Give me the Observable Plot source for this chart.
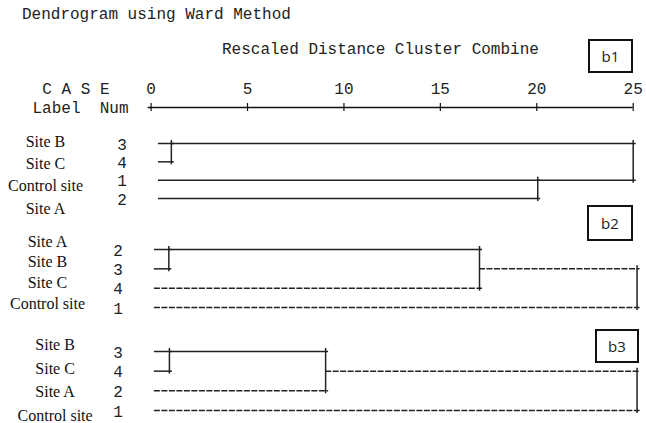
<!DOCTYPE html>
<html><head><meta charset="utf-8">
<script src="https://cdn.jsdelivr.net/npm/d3@7"></script>
<script src="https://cdn.jsdelivr.net/npm/@observablehq/plot@0.6"></script>
<style>
body{margin:0;background:#fff;}
#wrap{position:relative;width:646px;height:423px;overflow:hidden;background:#fff;}
#wrap svg{display:block;}
svg text{white-space:pre;}
.mono{position:absolute;font-family:"Liberation Mono",monospace;font-size:16px;line-height:16px;color:#222;white-space:pre;}
.tag{position:absolute;border:2px solid #111;box-sizing:border-box;font:15px "Open Sans",sans-serif;color:#222;display:flex;align-items:center;justify-content:center;background:#fff;}
</style></head><body><div id="wrap"></div>
<script>
// ---- text & axis ----
const chartTitle = "Dendrogram using Ward Method";
const axisTitle = "Rescaled Distance Cluster Combine";
const tickValues = [0, 5, 10, 15, 20, 25];
const headLabels = ["C A S E", "Label  Num"];
const panelTags = ["b1", "b2", "b3"];

// ---- panel b1 ----
const b1Labels = ["Site B", "Site C", "Control site", "Site A"];
const b1Nums = [3, 4, 1, 2];
const b1Merges = [
  {a: 0, b: 1, d: 1.05, out: 0},
  {a: 2, b: 3, d: 20.05, out: 2},
  {a: 0, b: 2, d: 25, out: 0}
];
const b1DashedLeaves = [];

// ---- panel b2 ----
const b2Labels = ["Site A", "Site B", "Site C", "Control site"];
const b2Nums = [2, 3, 4, 1];
const b2Merges = [
  {a: 0, b: 1, d: 0.92, out: 0},
  {a: 0, b: 2, d: 17.03, out: 1, dash: true},
  {a: 1, b: 3, d: 25.2, out: 1, dash: true}
];
const b2DashedLeaves = [2, 3];

// ---- panel b3 ----
const b3Labels = ["Site B", "Site C", "Site A", "Control site"];
const b3Nums = [3, 4, 2, 1];
const b3Merges = [
  {a: 0, b: 1, d: 0.95, out: 0},
  {a: 0, b: 2, d: 9.05, out: 1, dash: true},
  {a: 1, b: 3, d: 25.2, out: 1, dash: true}
];
const b3DashedLeaves = [2, 3];

const wrap = document.getElementById("wrap");
const ML = 150.6, MR = 13.3, W = 646;
const INK = "#222";

// title texts
function addDiv(cls, text, left, top, extra) {
  const el = document.createElement("div");
  el.className = cls; el.textContent = text;
  el.style.left = left + "px"; el.style.top = top + "px";
  if (extra) Object.assign(el.style, extra);
  wrap.appendChild(el);
  return el;
}

// header with axis
const header = Plot.plot({
  width: W, height: 118, marginTop: 88, marginBottom: 11, marginLeft: ML, marginRight: MR,
  x: {domain: [0, 25], axis: null},
  y: {domain: [0, 1], reverse: true, axis: null},
  style: {overflow: "visible", background: "transparent"},
  marks: [
    Plot.text(tickValues, {x: d => d, y: 0, text: d => String(d), fontFamily: "Liberation Mono", fontSize: 16, fill: INK}),
    Plot.ruleY([1], {x1: 0, x2: 25, insetLeft: -3, stroke: "#111", strokeWidth: 1.5}),
    Plot.ruleX(tickValues, {x: d => d, y1: 1, y2: 1, insetTop: -4, insetBottom: -4, stroke: "#111", strokeWidth: 1.2}),
    Plot.text([headLabels[0]], {x: 0, y: 0, text: d => d, dx: -41.6, textAnchor: "end", fontFamily: "Liberation Mono", fontSize: 16, fill: INK}),
    Plot.text([headLabels[1]], {x: 0, y: 1, text: d => d, dx: -22.6, textAnchor: "end", fontFamily: "Liberation Mono", fontSize: 16, fill: INK})
  ]
});
wrap.appendChild(header);

function panel(cfg) {
  const segsH = [], segsV = [];
  const start = cfg.labels.map(() => cfg.leafStart);
  const dashed = cfg.labels.map((_, i) => cfg.dashedLeaves.includes(i));
  cfg.merges.forEach(m => {
    segsH.push({row: m.a, x1: start[m.a], x2: m.d, dashed: dashed[m.a]});
    segsH.push({row: m.b, x1: start[m.b], x2: m.d, dashed: dashed[m.b]});
    segsV.push({x: m.d, y1: Math.min(m.a, m.b), y2: Math.max(m.a, m.b)});
    start[m.out] = m.d; dashed[m.out] = !!m.dash;
  });
  const rows = cfg.labels.map((label, i) => ({label, num: cfg.nums[i], i}));
  return Plot.plot({
    width: W, height: cfg.height, marginTop: cfg.mt, marginBottom: cfg.mb, marginLeft: ML, marginRight: MR,
    x: {domain: [0, 25], axis: null},
    y: {domain: [0, 3], reverse: true, axis: null},
    style: {overflow: "visible", background: "transparent"},
    marks: [
      Plot.ruleY(segsH.filter(s => !s.dashed), {y: "row", x1: "x1", x2: "x2", insetRight: -3, stroke: INK, strokeWidth: 1.5}),
      Plot.ruleY(segsH.filter(s => s.dashed), {y: "row", x1: "x1", x2: "x2", insetRight: -3, stroke: INK, strokeWidth: 1.5, strokeDasharray: "6,1.5"}),
      Plot.ruleX(segsV, {x: "x", y1: "y1", y2: "y2", insetTop: -3, insetBottom: -3, stroke: INK, strokeWidth: 1.5}),
      Plot.text(rows, {x: 0, y: d => 1.5 + (d.i - 1.5) * cfg.spread + cfg.shift, text: "label", dx: cfg.labelDx,
        textAnchor: "middle", fontFamily: "Liberation Serif", fontSize: 16, fill: "#111"}),
      Plot.text(rows, {x: 0, y: "i", text: d => String(d.num), dx: cfg.numDx, dy: 1,
        textAnchor: "middle", fontFamily: "Liberation Mono", fontSize: 16, fill: INK})
    ]
  });
}

wrap.appendChild(panel({labels: b1Labels, nums: b1Nums, merges: b1Merges, dashedLeaves: b1DashedLeaves,
  leafStart: 0.38, height: 104, mt: 25, mb: 24, spread: 1.22, shift: 0.22, labelDx: -105.6, numDx: -29}));
wrap.appendChild(panel({labels: b2Labels, nums: b2Nums, merges: b2Merges, dashedLeaves: b2DashedLeaves,
  leafStart: 0.17, height: 103, mt: 27, mb: 18, spread: 1.07, shift: -0.31, labelDx: -103.6, numDx: -33}));
wrap.appendChild(panel({labels: b3Labels, nums: b3Nums, merges: b3Merges, dashedLeaves: b3DashedLeaves,
  leafStart: 0.17, height: 98, mt: 26, mb: 13, spread: 1.19, shift: -0.03, labelDx: -96, numDx: -33}));

addDiv("mono", chartTitle, 22, 7);
addDiv("mono", axisTitle, 222, 42);
const tagBoxes = [
  {left: 588, top: 39, w: 45, h: 34},
  {left: 587, top: 205, w: 46, h: 36},
  {left: 595, top: 329, w: 44, h: 34}
];
panelTags.forEach((t, i) => {
  const b = tagBoxes[i];
  addDiv("tag", t, b.left, b.top, {width: b.w + "px", height: b.h + "px"});
});
</script></body></html>
